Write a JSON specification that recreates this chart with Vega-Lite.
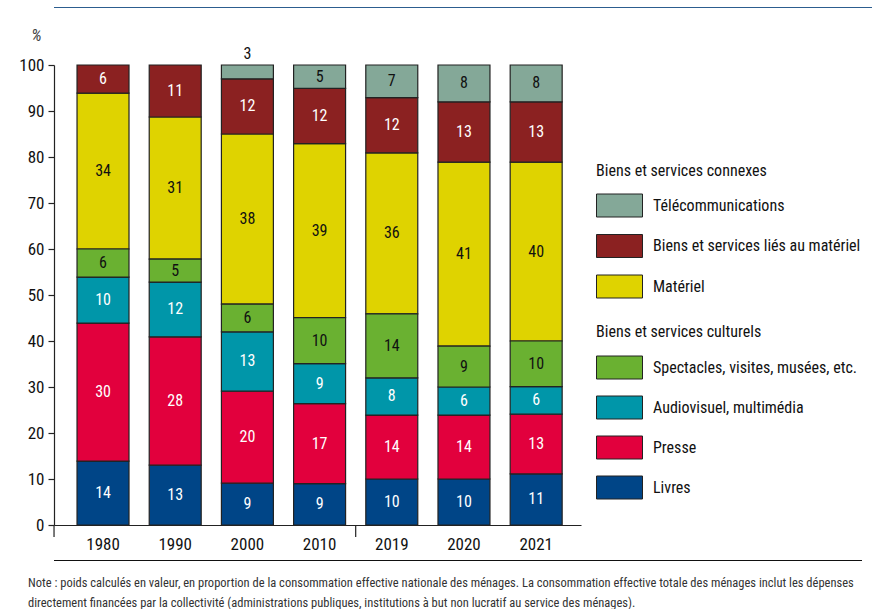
{
  "$schema": "https://vega.github.io/schema/vega-lite/v6.json",
  "background": "white",
  "padding": {"left": 18, "top": 1, "right": 0, "bottom": 0},
  "config": {
    "font": "'Roboto Condensed', 'Liberation Sans Narrow', Roboto, sans-serif",
    "view": {"stroke": null},
    "axis": {"labelColor": "#111", "domainColor": "#222", "tickColor": "#222", "grid": false}
  },
  "spacing": 13,
  "vconcat": [
    {
      "width": 818,
      "height": 1,
      "view": {"fill": "#2c5d8f", "stroke": null},
      "data": {"values": [{}]},
      "mark": "text",
      "encoding": {"text": {"value": ""}}
    },
    {
      "spacing": 2,
      "vconcat": [
        {
          "width": 527,
          "height": 460,
          "data": {
            "values": [
              {"year": "1980", "cat": "Livres", "k": 1, "v": 13.9, "lab": "14"},
              {"year": "1980", "cat": "Presse", "k": 2, "v": 30, "lab": "30"},
              {"year": "1980", "cat": "Audiovisuel, multimédia", "k": 3, "v": 10, "lab": "10"},
              {"year": "1980", "cat": "Spectacles, visites, musées, etc.", "k": 4, "v": 6.1, "lab": "6"},
              {"year": "1980", "cat": "Matériel", "k": 5, "v": 33.9, "lab": "34"},
              {"year": "1980", "cat": "Biens et services liés au matériel", "k": 6, "v": 6.1, "lab": "6"},
              {"year": "1990", "cat": "Livres", "k": 1, "v": 13, "lab": "13"},
              {"year": "1990", "cat": "Presse", "k": 2, "v": 27.9, "lab": "28"},
              {"year": "1990", "cat": "Audiovisuel, multimédia", "k": 3, "v": 11.9, "lab": "12"},
              {"year": "1990", "cat": "Spectacles, visites, musées, etc.", "k": 4, "v": 5, "lab": "5"},
              {"year": "1990", "cat": "Matériel", "k": 5, "v": 30.9, "lab": "31"},
              {"year": "1990", "cat": "Biens et services liés au matériel", "k": 6, "v": 11.3, "lab": "11"},
              {"year": "2000", "cat": "Livres", "k": 1, "v": 9.1, "lab": "9"},
              {"year": "2000", "cat": "Presse", "k": 2, "v": 20, "lab": "20"},
              {"year": "2000", "cat": "Audiovisuel, multimédia", "k": 3, "v": 12.9, "lab": "13"},
              {"year": "2000", "cat": "Spectacles, visites, musées, etc.", "k": 4, "v": 6, "lab": "6"},
              {"year": "2000", "cat": "Matériel", "k": 5, "v": 37, "lab": "38"},
              {"year": "2000", "cat": "Biens et services liés au matériel", "k": 6, "v": 12, "lab": "12"},
              {"year": "2000", "cat": "Télécommunications", "k": 7, "v": 3, "lab": "3"},
              {"year": "2010", "cat": "Livres", "k": 1, "v": 9, "lab": "9"},
              {"year": "2010", "cat": "Presse", "k": 2, "v": 17.4, "lab": "17"},
              {"year": "2010", "cat": "Audiovisuel, multimédia", "k": 3, "v": 8.7, "lab": "9"},
              {"year": "2010", "cat": "Spectacles, visites, musées, etc.", "k": 4, "v": 10, "lab": "10"},
              {"year": "2010", "cat": "Matériel", "k": 5, "v": 37.8, "lab": "39"},
              {"year": "2010", "cat": "Biens et services liés au matériel", "k": 6, "v": 12, "lab": "12"},
              {"year": "2010", "cat": "Télécommunications", "k": 7, "v": 5.1, "lab": "5"},
              {"year": "2019", "cat": "Livres", "k": 1, "v": 10, "lab": "10"},
              {"year": "2019", "cat": "Presse", "k": 2, "v": 13.9, "lab": "14"},
              {"year": "2019", "cat": "Audiovisuel, multimédia", "k": 3, "v": 8.1, "lab": "8"},
              {"year": "2019", "cat": "Spectacles, visites, musées, etc.", "k": 4, "v": 13.9, "lab": "14"},
              {"year": "2019", "cat": "Matériel", "k": 5, "v": 35, "lab": "36"},
              {"year": "2019", "cat": "Biens et services liés au matériel", "k": 6, "v": 12, "lab": "12"},
              {"year": "2019", "cat": "Télécommunications", "k": 7, "v": 7.1, "lab": "7"},
              {"year": "2020", "cat": "Livres", "k": 1, "v": 10, "lab": "10"},
              {"year": "2020", "cat": "Presse", "k": 2, "v": 13.9, "lab": "14"},
              {"year": "2020", "cat": "Audiovisuel, multimédia", "k": 3, "v": 6.1, "lab": "6"},
              {"year": "2020", "cat": "Spectacles, visites, musées, etc.", "k": 4, "v": 8.9, "lab": "9"},
              {"year": "2020", "cat": "Matériel", "k": 5, "v": 40, "lab": "41"},
              {"year": "2020", "cat": "Biens et services liés au matériel", "k": 6, "v": 13.1, "lab": "13"},
              {"year": "2020", "cat": "Télécommunications", "k": 7, "v": 8, "lab": "8"},
              {"year": "2021", "cat": "Livres", "k": 1, "v": 11.1, "lab": "11"},
              {"year": "2021", "cat": "Presse", "k": 2, "v": 13, "lab": "13"},
              {"year": "2021", "cat": "Audiovisuel, multimédia", "k": 3, "v": 6, "lab": "6"},
              {"year": "2021", "cat": "Spectacles, visites, musées, etc.", "k": 4, "v": 9.9, "lab": "10"},
              {"year": "2021", "cat": "Matériel", "k": 5, "v": 38.9, "lab": "40"},
              {"year": "2021", "cat": "Biens et services liés au matériel", "k": 6, "v": 13.1, "lab": "13"},
              {"year": "2021", "cat": "Télécommunications", "k": 7, "v": 8, "lab": "8"}
            ]
          },
          "transform": [
            {"stack": "v", "groupby": ["year"], "sort": [{"field": "k", "order": "ascending"}], "as": ["y0", "y1"]},
            {"calculate": "(datum.y0 + datum.y1) / 2", "as": "mid"}
          ],
          "resolve": {"scale": {"fill": "independent"}},
          "layer": [
            {
              "transform": [{"filter": "datum.k >= 5"}],
              "mark": {"type": "bar", "stroke": "#222", "strokeWidth": 1.2},
              "encoding": {
                "x": {
                  "field": "year", "type": "nominal", "sort": null,
                  "scale": {"paddingInner": 0.28, "paddingOuter": 0.29, "align": 0.55},
                  "axis": {"title": null, "labelAngle": 0, "ticks": false, "labelFontSize": 17, "labelPadding": 11, "domainWidth": 1.2}
                },
                "y": {
                  "field": "y0", "type": "quantitative",
                  "scale": {"domain": [0, 100], "nice": false},
                  "axis": {
                    "values": [0, 10, 20, 30, 40, 50, 60, 70, 80, 90, 100],
                    "tickSize": 6, "labelPadding": 4, "labelFontSize": 17, "domainWidth": 1.2, "tickWidth": 1.2,
                    "title": "%", "titleAngle": 0, "titleX": -18, "titleY": -30, "titleAlign": "center", "titleBaseline": "middle",
                    "titleFontStyle": "italic", "titleFontWeight": "normal", "titleFontSize": 17, "titleColor": "#444"
                  }
                },
                "y2": {"field": "y1"},
                "fill": {
                  "field": "cat", "type": "nominal",
                  "scale": {
                    "domain": ["Télécommunications", "Biens et services liés au matériel", "Matériel"],
                    "range": ["#84a898", "#8b2121", "#dfd300"]
                  },
                  "legend": {
                    "title": "Biens et services connexes", "orient": "none", "legendX": 542, "legendY": 98,
                    "symbolType": "M-1,-0.5H1V0.5H-1Z", "symbolSize": 2116, "symbolStrokeColor": "#222", "symbolStrokeWidth": 1,
                    "labelFontSize": 16, "titleFontSize": 16, "titleFontWeight": "normal", "rowPadding": 3.5,
                    "labelOffset": 10, "titlePadding": 3, "padding": 0, "labelLimit": 400, "titleLimit": 400, "labelColor": "#111", "titleColor": "#111"
                  }
                }
              }
            },
            {
              "transform": [{"filter": "datum.k <= 4"}],
              "mark": {"type": "bar", "stroke": "#222", "strokeWidth": 1.2},
              "encoding": {
                "x": {"field": "year", "type": "nominal", "sort": null},
                "y": {"field": "y0", "type": "quantitative"},
                "y2": {"field": "y1"},
                "fill": {
                  "field": "cat", "type": "nominal",
                  "scale": {
                    "domain": ["Spectacles, visites, musées, etc.", "Audiovisuel, multimédia", "Presse", "Livres"],
                    "range": ["#6ab131", "#0096a9", "#e2003d", "#004587"]
                  },
                  "legend": {
                    "title": "Biens et services culturels", "orient": "none", "legendX": 542, "legendY": 259,
                    "symbolType": "M-1,-0.5H1V0.5H-1Z", "symbolSize": 2116, "symbolStrokeColor": "#222", "symbolStrokeWidth": 1,
                    "labelFontSize": 16, "titleFontSize": 16, "titleFontWeight": "normal", "rowPadding": 3,
                    "labelOffset": 10, "titlePadding": 4, "padding": 0, "labelLimit": 400, "titleLimit": 400, "labelColor": "#111", "titleColor": "#111"
                  }
                }
              }
            },
            {
              "transform": [{"filter": "datum.v >= 4"}],
              "mark": {"type": "text", "fontSize": 16, "baseline": "middle", "align": "center"},
              "encoding": {
                "x": {"field": "year", "type": "nominal", "sort": null},
                "y": {"field": "mid", "type": "quantitative"},
                "text": {"field": "lab"},
                "color": {"condition": {"test": "datum.k == 4 || datum.k == 5 || datum.k == 7", "value": "#111"}, "value": "white"}
              }
            },
            {
              "transform": [{"filter": "datum.v < 4"}],
              "mark": {"type": "text", "fontSize": 16, "baseline": "middle", "align": "center", "dy": -11, "color": "#111"},
              "encoding": {
                "x": {"field": "year", "type": "nominal", "sort": null},
                "y": {"field": "y1", "type": "quantitative"},
                "text": {"field": "lab"}
              }
            },
            {
              "transform": [{"filter": "datum.year == '2019' && datum.k == 1"}],
              "mark": {"type": "rule", "xOffset": -10.1, "y2Offset": 12, "color": "#222", "strokeWidth": 1.2},
              "encoding": {
                "x": {"field": "year", "type": "nominal", "sort": null, "bandPosition": 0},
                "y": {"datum": 0, "type": "quantitative"},
                "y2": {"datum": 0}
              }
            },
            {
              "transform": [{"filter": "datum.year == '1980' && datum.k == 1"}],
              "mark": {"type": "rule", "xOffset": -23, "y2Offset": 12, "color": "#222", "strokeWidth": 1.2},
              "encoding": {
                "x": {"field": "year", "type": "nominal", "sort": null, "bandPosition": 0},
                "y": {"datum": 0, "type": "quantitative"},
                "y2": {"datum": 0}
              }
            }
          ]
        },
        {
          "width": 808,
          "height": 1,
          "view": {"fill": "#111", "stroke": null},
          "data": {"values": [{}]},
          "mark": "text",
          "encoding": {"text": {"value": ""}},
          "title": {
            "text": [
              "Note : poids calculés en valeur, en proportion de la consommation effective nationale des ménages. La consommation effective totale des ménages inclut les dépenses",
              "directement financées par la collectivité (administrations publiques, institutions à but non lucratif au service des ménages)."
            ],
            "orient": "bottom", "anchor": "start", "fontSize": 12.5, "fontWeight": "normal", "lineHeight": 20,
            "offset": 11, "dx": -26, "color": "#333", "baseline": "top"
          }
        }
      ]
    }
  ]
}
